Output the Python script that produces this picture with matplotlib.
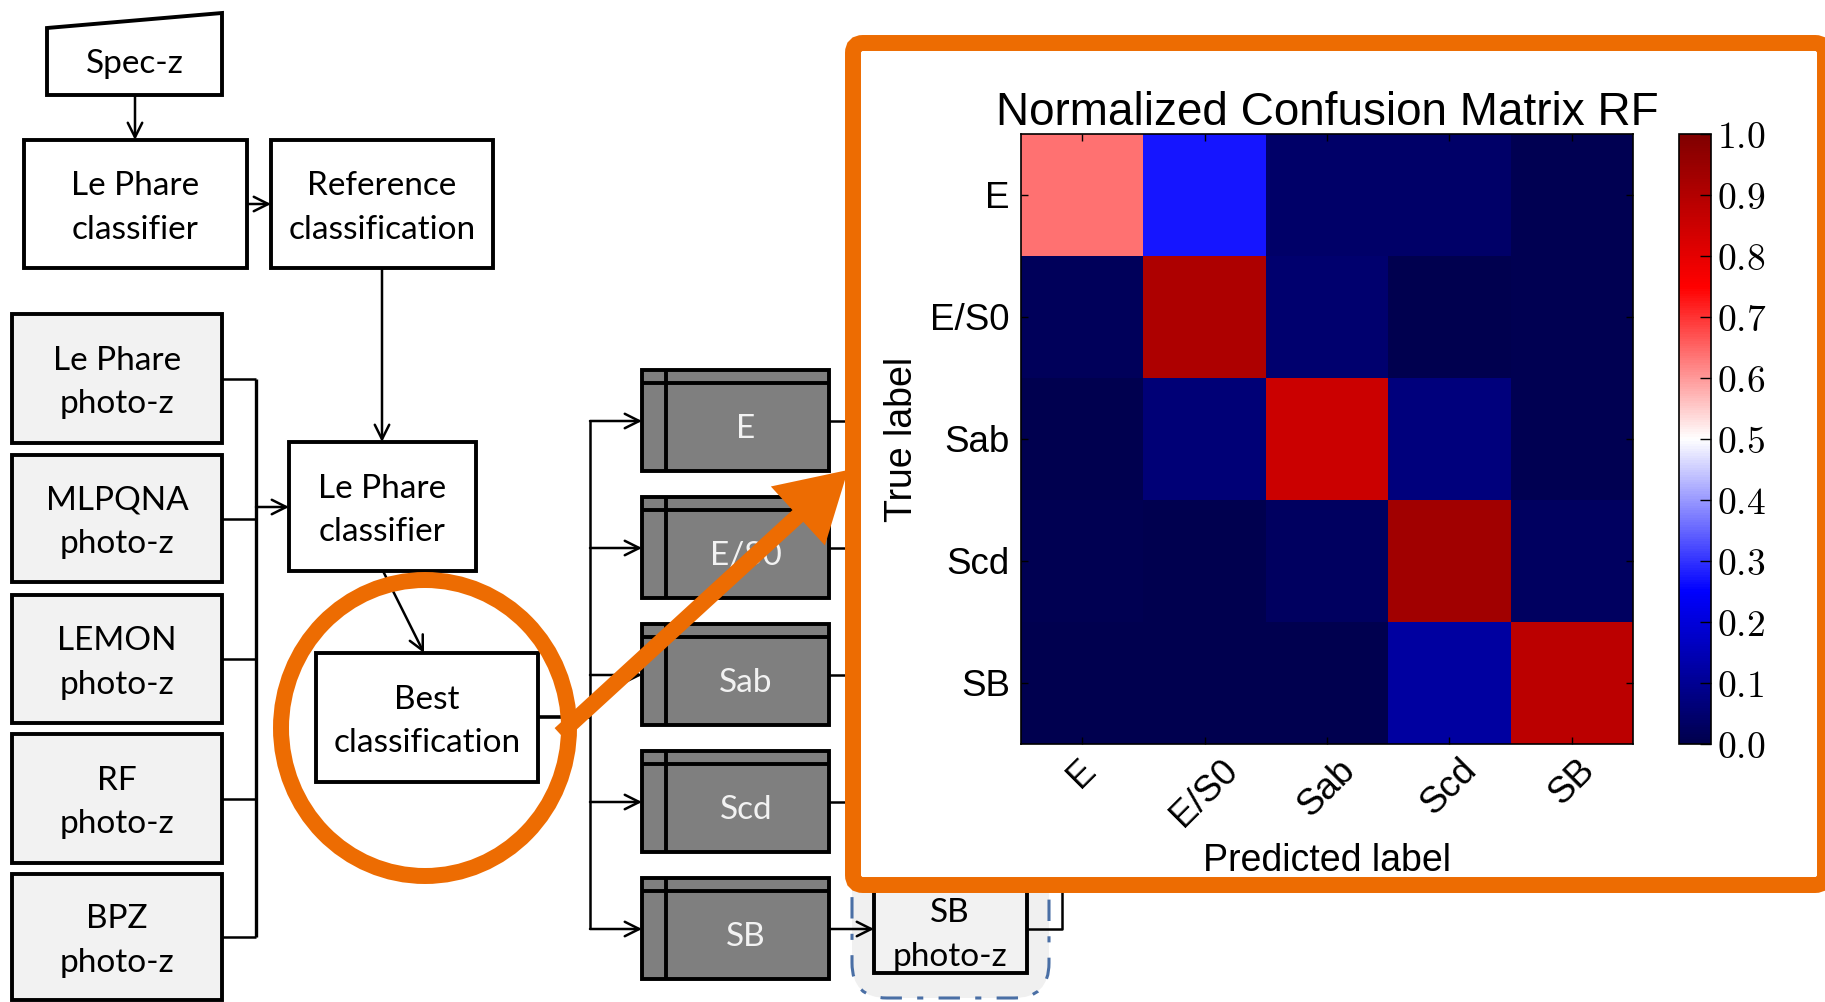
import numpy as np
import matplotlib
matplotlib.use('Agg')
import matplotlib.pyplot as plt
from matplotlib.patches import Rectangle, Polygon, Ellipse, FancyBboxPatch, FancyArrow

plt.rcParams['mathtext.fontset'] = 'cm'

# --- data ---
classes = ['E', 'E/S0', 'Sab', 'Scd', 'SB']
# normalized confusion matrix, rows = true label, cols = predicted label
cm = np.array([
    [0.64, 0.27, 0.04, 0.04, 0.01],
    [0.02, 0.91, 0.05, 0.005, 0.01],
    [0.005, 0.06, 0.85, 0.07, 0.01],
    [0.01, 0.005, 0.03, 0.93, 0.03],
    [0.005, 0.005, 0.005, 0.12, 0.88],
])
cbar_ticks = [0.0, 0.1, 0.2, 0.3, 0.4, 0.5, 0.6, 0.7, 0.8, 0.9, 1.0]

photoz_labels = ['Le Phare\nphoto-z', 'MLPQNA\nphoto-z', 'LEMON\nphoto-z',
                 'RF\nphoto-z', 'BPZ\nphoto-z']
top_labels = ['Spec-z', 'Le Phare\nclassifier', 'Reference\nclassification',
              'Le Phare\nclassifier', 'Best\nclassification']
sb_photoz = 'SB\nphoto-z'

W, H = 1825, 1002
orange = '#ED6C02'
light = '#f2f2f2'
FF = 'Lato'
FS = 24
LS = 1.55
DY = 4      # text sits a bit low in the boxes
BLW = 2.8   # box edge
CLW = 1.8   # connector


def box(ax, x0, y0, x1, y1, fc='white', text=None, tc='black', zo=2):
    ax.add_patch(Rectangle((x0, y0), x1 - x0, y1 - y0, fc=fc, ec='black', lw=BLW, zorder=zo))
    if text is not None:
        ax.text((x0 + x1) / 2, (y0 + y1) / 2 + DY, text, ha='center', va='center', fontsize=FS,
                family=FF, color=tc, linespacing=LS, zorder=zo + 0.1)


def line(ax, xs, ys, lw=CLW, zo=1):
    ax.plot(xs, ys, color='black', lw=lw, solid_capstyle='butt', zorder=zo)


def arrow(ax, x0, y0, x1, y1, zo=1):
    ax.annotate('', xy=(x1, y1), xytext=(x0, y0),
                arrowprops=dict(arrowstyle='->', lw=CLW, color='black', shrinkA=0, shrinkB=0,
                                mutation_scale=26), zorder=zo)


fig = plt.figure(figsize=(W / 100, H / 100), dpi=100)
ax0 = fig.add_axes([0, 0, 1, 1])
ax0.set_xlim(0, W)
ax0.set_ylim(H, 0)
ax0.axis('off')

# --- top of the flowchart ---
ax0.add_patch(Polygon([(47, 28), (222, 13), (222, 95), (47, 95)], closed=True,
                      fc='white', ec='black', lw=BLW, zorder=2))
ax0.text(135, 64, top_labels[0], ha='center', va='center', fontsize=FS, family=FF, zorder=3)
arrow(ax0, 135, 95, 135, 140)
box(ax0, 24, 140, 247, 268, text=top_labels[1])
box(ax0, 271, 140, 493, 268, text=top_labels[2])
arrow(ax0, 247, 204, 271, 204)
arrow(ax0, 382, 268, 382, 442)

# photo-z inputs
pz_tops = [314, 455, 595, 734, 874]
pz_bots = [443, 582, 723, 863, 1000]
for lab, t, b in zip(photoz_labels, pz_tops, pz_bots):
    box(ax0, 12, t, 222, b, fc=light, text=lab)
    line(ax0, [222, 256], [(t + b) / 2] * 2)
line(ax0, [256, 256], [(pz_tops[0] + pz_bots[0]) / 2, (pz_tops[-1] + pz_bots[-1]) / 2], lw=2.4)
arrow(ax0, 256, 507, 289, 507)

box(ax0, 289, 442, 476, 571, text=top_labels[3])
arrow(ax0, 383, 571, 424, 653)
box(ax0, 316, 653, 538, 782, text=top_labels[4])

# --- branching into the class boxes ---
line(ax0, [538, 590], [717, 717], lw=2.6)
ys = [370 + i * 127 for i in range(len(classes))]
line(ax0, [590, 590], [ys[0] + 51, ys[-1] + 51])
for lab, t in zip(classes, ys):
    ay = t + 51
    arrow(ax0, 590, ay, 642, ay)
    ax0.add_patch(Rectangle((642, t), 187, 101, fc='#7f7f7f', ec='black', lw=BLW, zorder=2))
    line(ax0, [642, 829], [t + 13, t + 13], lw=BLW, zo=2.05)
    line(ax0, [666, 666], [t, t + 101], lw=BLW, zo=2.05)
    ax0.text(746, t + 59, lab, ha='center', va='center', fontsize=FS, family=FF,
             color=light, zorder=2.2)
    if lab != 'SB':
        line(ax0, [829, 852], [ay, ay])

# SB photo-z in the dashed group
ax0.add_patch(FancyBboxPatch((852, 700), 197, 298, boxstyle='round,pad=0,rounding_size=35',
                             fc='#f0f0f0', ec='#4a6fa5', lw=2.2, ls=(0, (7, 5, 2, 5)), zorder=0.5))
sb_y = ys[-1] + 51
arrow(ax0, 829, sb_y, 874, sb_y)
box(ax0, 874, 830, 1027, 973, fc=light)
ax0.text(950, 935, sb_photoz, ha='center', va='center', fontsize=FS, family=FF,
         linespacing=LS, zorder=2.1)
line(ax0, [1027, 1062, 1062], [sb_y, sb_y, 860])

# --- orange highlight ---
ax0.add_patch(Ellipse((425, 728), 288, 296, fill=False, ec=orange, lw=11.5, zorder=5))
ax0.add_patch(FancyBboxPatch((853, 43), W - 853, 885 - 43, boxstyle='round,pad=0,rounding_size=10',
                             fc='white', ec=orange, lw=11.5, zorder=6))
ax0.add_patch(FancyArrow(560, 734, 288, -264, width=16, head_width=80, head_length=68,
                         length_includes_head=True, fc=orange, ec='none', zorder=7))

# --- confusion matrix ---
hx0, hx1, hy0, hy1 = 1021, 1633, 134, 744
ax = fig.add_axes([hx0 / W, 1 - hy1 / H, (hx1 - hx0) / W, (hy1 - hy0) / H], zorder=10)
im = ax.imshow(cm, cmap='seismic', vmin=0, vmax=1, interpolation='nearest', aspect='auto')
ticks = np.arange(len(classes))
ax.set_xticks(ticks)
ax.set_yticks(ticks)
ax.set_xticklabels(classes, rotation=45, ha='center', fontsize=26.5, family='Liberation Sans')
ax.set_yticklabels(classes, fontsize=26.5, family='Liberation Sans')
ax.tick_params(direction='in', length=5, width=1, top=True, right=True)
ax.tick_params(axis='y', pad=8)
ax.tick_params(axis='x', pad=6)
ax.set_title('Normalized Confusion Matrix RF', fontsize=33, family='Liberation Sans', pad=6.5)
ax.set_ylabel('True label', fontsize=27, family='Liberation Sans')
ax.set_xlabel('Predicted label', fontsize=27, family='Liberation Sans')
ax.yaxis.set_label_coords(-0.165, 0.5)
ax.xaxis.set_label_coords(0.5, -0.162)
for s in ax.spines.values():
    s.set_linewidth(1.2)

cax = fig.add_axes([1679 / W, 1 - hy1 / H, 32 / W, (hy1 - hy0) / H], zorder=10)
cb = fig.colorbar(im, cax=cax, ticks=cbar_ticks)
cb.ax.set_yticklabels(['$%.1f$' % t for t in cbar_ticks], fontsize=27)
cb.ax.tick_params(direction='in', length=8, width=1, pad=4)
cb.outline.set_linewidth(1.2)

fig.savefig('out.png', dpi=100)
